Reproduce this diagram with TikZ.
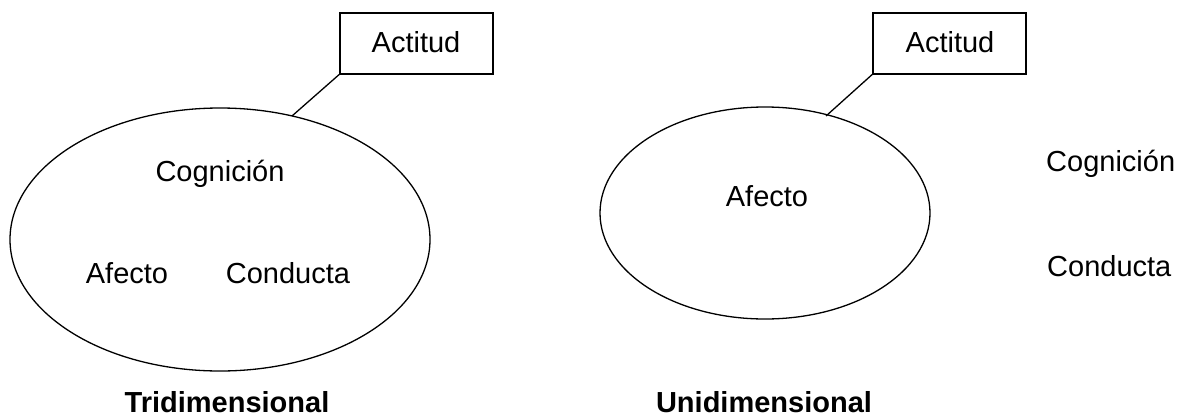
\documentclass[tikz,border=0pt]{standalone}
\usepackage{fontspec}
\setmainfont{Liberation Sans}
\begin{document}
\begin{tikzpicture}[x=1pt,y=-1pt,
  lbl/.style={inner sep=0pt,font=\fontsize{29}{34}\selectfont},
  captxt/.style={inner sep=0pt,font=\fontsize{29}{34}\selectfont\bfseries},
  ell/.style={draw,line width=1.3pt},
  boxline/.style={draw,line width=1.6pt},
  conn/.style={line width=1.3pt}]
\useasboundingbox (0,0) rectangle (1181,418);
% left
\draw[ell] (220,239.5) ellipse [x radius=210, y radius=131.5];
\node[boxline,inner sep=0pt,minimum width=153pt,minimum height=61pt] (boxL) at (416.5,43.2) {};
\node[lbl,anchor=base] (actL) at (416,52) {Actitud};
\coordinate (pL) at (292,116);
\draw[conn] (boxL.south west) -- (pL);
\node[lbl,anchor=base] (cogL) at (220,181) {Cognición};
\node[lbl,anchor=base] (afL) at (127,283) {Afecto};
\node[lbl,anchor=base] (conL) at (288,283) {Conducta};
\node[captxt,anchor=base] (tri) at (227,412) {Tridimensional};
% right
\draw[ell] (765,213) ellipse [x radius=165, y radius=106];
\node[boxline,inner sep=0pt,minimum width=153pt,minimum height=61pt] (boxR) at (949.5,43.2) {};
\node[lbl,anchor=base] (actR) at (950,52) {Actitud};
\coordinate (pR) at (826,116);
\draw[conn] (boxR.south west) -- (pR);
\node[lbl,anchor=base] (afR) at (767,206) {Afecto};
\node[lbl,anchor=base west] (cogR) at (1046,171) {Cognición};
\node[lbl,anchor=base west] (conR) at (1047,276) {Conducta};
\node[captxt,anchor=base] (uni) at (764,412) {Unidimensional};
\end{tikzpicture}
\end{document}
